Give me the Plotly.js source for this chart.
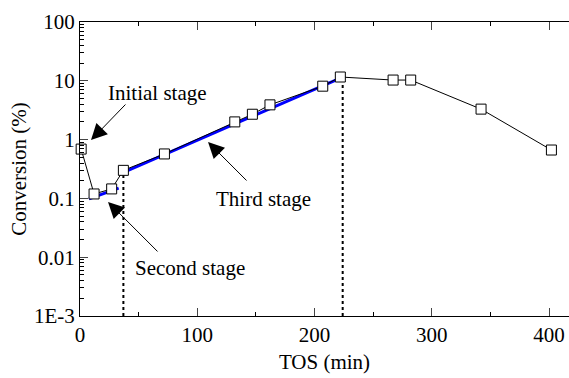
<!DOCTYPE html>
<html>
<head>
<meta charset="utf-8">
<script src="https://cdn.plot.ly/plotly-3.0.1.min.js"></script>
<style>html,body{margin:0;padding:0;background:#fff;}</style>
</head>
<body>
<div id="chart" style="width:569px;height:378px;"></div>
<script>
// Measured data
var tos = [1, 12, 27, 37, 72, 132, 147, 162, 207, 222, 267, 282, 342, 402];
var conversion = [0.69, 0.119, 0.145, 0.30, 0.57, 2.0, 2.7, 3.9, 8.1, 11.6, 10.3, 10.3, 3.3, 0.665];

// Fitted stage lines
var secondFitX = [7.7, 33];
var secondFitY = [0.098, 0.15];
var thirdFitX = [37.6, 224];
var thirdFitY = [0.28, 11.6];

// Stage boundaries
var boundaryX = [37, 224];
var boundaryTopY = [0.30, 11.6];
var yBottom = 0.001;

var yTickVals = [0.001, 0.01, 0.1, 1, 10, 100];
var yTickText = ['1E-3', '0.01', '0.1', '1', '10', '100'];

var font = 'Liberation Serif';
var fs = 21;

var traces = [];
for (var i = 0; i < boundaryX.length; i++) {
  traces.push({x: [boundaryX[i], boundaryX[i]], y: [yBottom, boundaryTopY[i]], mode: 'lines',
    line: {color: '#000', width: 2, dash: 'dot'}, hoverinfo: 'skip', showlegend: false});
}
traces.push({x: secondFitX, y: secondFitY, mode: 'lines', line: {color: '#0000ff', width: 3}, showlegend: false});
traces.push({x: thirdFitX, y: thirdFitY, mode: 'lines', line: {color: '#0000ff', width: 3}, showlegend: false});
traces.push({x: tos, y: conversion, mode: 'lines+markers', line: {color: '#000', width: 1},
  marker: {symbol: 'square', size: 10, color: '#fff', line: {color: '#000', width: 1}}, showlegend: false, cliponaxis: false});

function arrow(hx, hy, tx, ty) {
  return {x: hx, y: Math.log10(hy), ax: tx, ay: Math.log10(ty), xref: 'x', yref: 'y', axref: 'x', ayref: 'y',
    text: '', showarrow: true, arrowhead: 2, arrowsize: 3.2, arrowwidth: 1, arrowcolor: '#000'};
}
function label(t, x, y) {
  return {x: x, y: Math.log10(y), xref: 'x', yref: 'y', text: t, showarrow: false,
    font: {family: font, size: fs, color: '#000'}};
}

var layout = {
  width: 569, height: 378,
  margin: {l: 80, r: 0, t: 22, b: 62},
  paper_bgcolor: '#fff', plot_bgcolor: '#fff',
  font: {family: font, size: fs, color: '#000'},
  xaxis: {
    range: [0, 417], tickvals: [0, 100, 200, 300, 400], ticks: 'inside', ticklen: 8, tickwidth: 1,
    showline: true, linecolor: '#000', linewidth: 1, mirror: 'ticks', showgrid: false, zeroline: false,
    minor: {tickvals: [50, 150, 250, 350], ticks: 'inside', ticklen: 4, tickcolor: '#000', showgrid: false},
    title: {text: 'TOS (min)', font: {family: font, size: fs}, standoff: 8},
    tickfont: {family: font, size: fs}
  },
  yaxis: {
    type: 'log', range: [-3, 2], tickvals: yTickVals, ticktext: yTickText, ticks: 'inside', ticklen: 8, tickwidth: 1,
    showline: true, linecolor: '#000', linewidth: 1, mirror: false, showgrid: false, zeroline: false,
    minor: {ticks: 'inside', ticklen: 4, tickcolor: '#000', showgrid: false, dtick: 'D1'},
    title: {text: 'Conversion (%)', font: {family: font, size: fs}, standoff: 1},
    tickfont: {family: font, size: fs}
  },
  annotations: [
    label('Initial stage', 65.7, 6.2),
    label('Third stage', 156.7, 0.098),
    label('Second stage', 93.8, 0.00655),
    arrow(9.4, 0.98, 40, 4.19),
    arrow(109.2, 0.91, 143.3, 0.19),
    arrow(23.9, 0.087, 67.4, 0.0118)
  ]
};

Plotly.newPlot('chart', traces, layout, {displayModeBar: false, staticPlot: true});
</script>
</body>
</html>
